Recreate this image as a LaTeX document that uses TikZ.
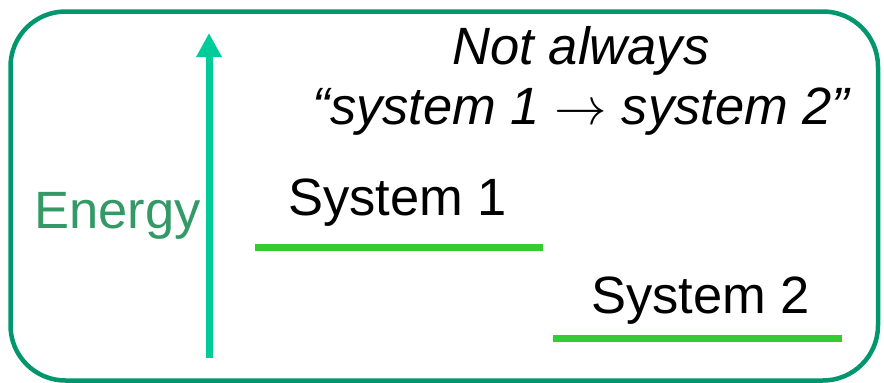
\documentclass[tikz,border=0pt]{standalone}
\usepackage{fix-cm}
\usepackage{fontspec}
\setmainfont{Liberation Sans}
\usetikzlibrary{arrows.meta}
\definecolor{frame}{RGB}{0,150,110}
\definecolor{axis}{RGB}{0,204,153}
\definecolor{elabel}{RGB}{51,153,102}
\definecolor{level}{RGB}{51,204,51}
\tikzset{
  txt/.style={inner sep=0pt, font=\fontsize{52.5}{62}\selectfont},
  itxt/.style={inner sep=0pt, align=center, font=\fontsize{52.5}{60}\selectfont\itshape},
  lvl/.style={draw=level, line width=7pt},
}
\begin{document}
\begin{tikzpicture}[x=1pt,y=-1pt]
\useasboundingbox (0,0) rectangle (884,383);
\draw[frame, line width=4.5pt, rounded corners=55pt] (10.5,11.5) rectangle (878,380.5);
\coordinate (ebot) at (209,358);
\coordinate (etop) at (209,33);
\draw[axis, line width=7pt, -{Triangle[width=24pt,length=24pt]}] (ebot) -- (etop);
\node[txt, text=elabel, anchor=base west] (energy) at (34,228) {Energy};
\node[txt, anchor=base west] (s1) at (288,215) {System 1};
\node[txt, anchor=base west] (s2) at (591,313) {System 2};
\coordinate (l1a) at (255,247.5);
\coordinate (l1b) at (543,247.5);
\coordinate (l2a) at (553,338);
\coordinate (l2b) at (842,338);
\draw[lvl] (l1a) -- (l1b);
\draw[lvl] (l2a) -- (l2b);
\node[itxt, anchor=base] (note) at (581,124) {Not always\\“system 1 $\rightarrow$ system 2”};
\end{tikzpicture}
\end{document}
